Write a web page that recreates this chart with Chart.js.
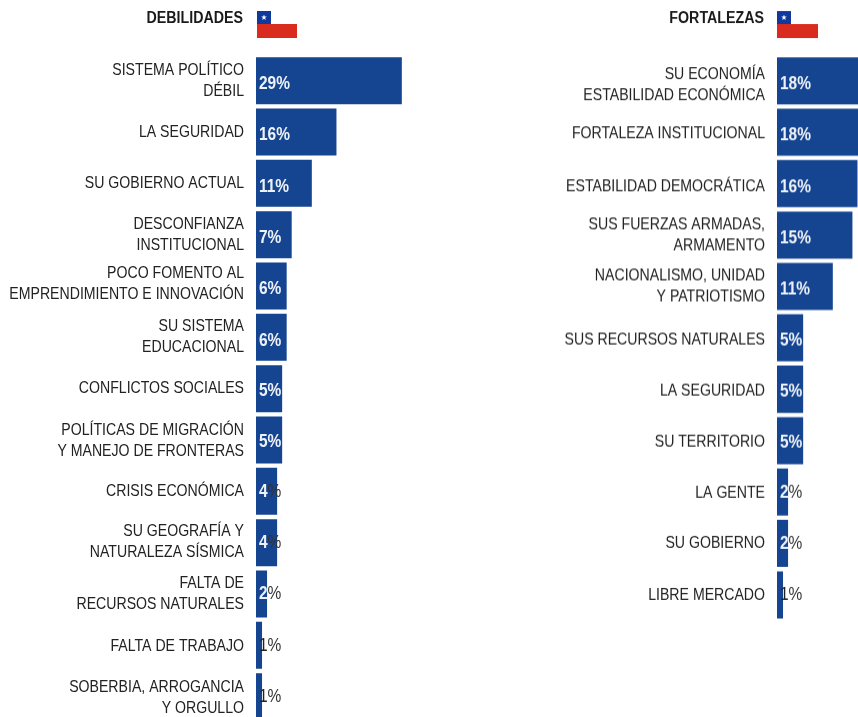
<!DOCTYPE html>
<html><head><meta charset="utf-8">
<script src="https://cdn.jsdelivr.net/npm/chart.js@4"></script>
<style>
html,body{margin:0;padding:0;background:#fff;overflow:hidden;width:858px;height:717px}
.box{position:absolute;top:0}
canvas{display:block}
</style></head><body>
<div class="box" style="left:0;width:432px;height:780px"><canvas id="left" width="432" height="756"></canvas></div>
<div class="box" style="left:432px;width:521px;height:680px"><canvas id="right" width="521" height="653"></canvas></div>
<script>
const weakLabels = [
  ["SISTEMA POLÍTICO","DÉBIL"],"LA SEGURIDAD","SU GOBIERNO ACTUAL",
  ["DESCONFIANZA","INSTITUCIONAL"],["POCO FOMENTO AL","EMPRENDIMIENTO E INNOVACIÓN"],
  ["SU SISTEMA","EDUCACIONAL"],"CONFLICTOS SOCIALES",
  ["POLÍTICAS DE MIGRACIÓN","Y MANEJO DE FRONTERAS"],"CRISIS ECONÓMICA",
  ["SU GEOGRAFÍA Y","NATURALEZA SÍSMICA"],["FALTA DE","RECURSOS NATURALES"],
  "FALTA DE TRABAJO",["SOBERBIA, ARROGANCIA","Y ORGULLO"]
];
const weakValues = [29, 16, 11.1, 7.1, 6.1, 6.1, 5.2, 5.2, 4.2, 4.2, 2.2, 1.2, 1.2];
const strongLabels = [
  ["SU ECONOMÍA","ESTABILIDAD ECONÓMICA"],"FORTALEZA INSTITUCIONAL","ESTABILIDAD DEMOCRÁTICA",
  ["SUS FUERZAS ARMADAS,","ARMAMENTO"],["NACIONALISMO, UNIDAD","Y PATRIOTISMO"],
  "SUS RECURSOS NATURALES","LA SEGURIDAD","SU TERRITORIO","LA GENTE","SU GOBIERNO","LIBRE MERCADO"
];
const strongValues = [18, 18, 16, 15, 11.1, 5.2, 5.2, 5.2, 2.2, 2.2, 1.2];

// layout-only tweaks: vertical nudge of each axis label, in pixels
const weakNudge = [0, 0, 0, 0, -2, -1, 0, 1, 0, -1, 0, 1, 1];
const strongNudge = [4.5, 1.5, 3, 0, 0, 2, 2, 1.5, 1, 0, 0];

const FONT = '"Liberation Sans",Arial,sans-serif';
const BAR = '#154591';
const SQUEEZE = 0.83;
const ROW = 51.33;

const decor = {
  id: 'decor',
  afterDatasetsDraw(chart, _a, opts) {
    const ctx = chart.ctx, area = chart.chartArea, meta = chart.getDatasetMeta(0);
    const put = (txt, x, y, font, color, align, sx) => {
      ctx.save();
      ctx.translate(x, y);
      ctx.scale(sx, 1);
      ctx.font = font;
      ctx.fillStyle = color;
      ctx.textAlign = align;
      ctx.textBaseline = 'middle';
      ctx.fillText(txt, 0, 0);
      ctx.restore();
    };
    meta.data.forEach((bar, i) => {
      const v = Math.round(chart.data.datasets[0].data[i]);
      const x = area.left + 3;
      if (v >= 5) {
        put(v + '%', x, bar.y + (v >= 6 ? 3.5 : 2.5), 'bold 18px ' + FONT, '#eef2f8', 'left', 0.86);
      } else {
        ctx.font = 'bold 18px ' + FONT;
        const dx = ctx.measureText(String(v)).width * 0.86;
        put(String(v), x, bar.y + 0.5, (v >= 2 ? 'bold ' : '') + '18px ' + FONT, v >= 2 ? '#eef2f8' : '#222', 'left', 0.86);
        put('%', x + dx, bar.y + 0.5, '18px ' + FONT, '#333', 'left', 0.86);
      }
    });
    put(opts.title, area.left - 13, 18.5, 'bold 16px ' + FONT, '#1a1a1a', 'right', 0.89);
    const fx = area.left + opts.flagInset, fy = 11;
    ctx.save();
    ctx.fillStyle = '#d92c1e';
    ctx.fillRect(fx, fy + 13, 41 - opts.flagInset, 14);
    ctx.fillStyle = '#0f399c';
    ctx.fillRect(fx, fy, 14, 13);
    ctx.fillStyle = '#fff';
    ctx.beginPath();
    for (let k = 0; k < 10; k++) {
      const r = k % 2 ? 1.2 : 3, a = -Math.PI / 2 + k * Math.PI / 5;
      ctx.lineTo(fx + 7 + r * Math.cos(a), fy + 6.5 + r * Math.sin(a));
    }
    ctx.closePath();
    ctx.fill();
    ctx.restore();
  }
};

function build(id, labels, values, axisWidth, title, nudge, flagInset) {
  const chart = new Chart(document.getElementById(id), {
    type: 'bar',
    plugins: [decor],
    data: { labels, datasets: [{ data: values, backgroundColor: BAR, categoryPercentage: 1, barPercentage: 0.916 }] },
    options: {
      indexAxis: 'y', responsive: false, animation: false, maintainAspectRatio: false,
      layout: { padding: { top: 55, bottom: 0, left: 0, right: 0 }, autoPadding: false },
      plugins: { legend: { display: false }, tooltip: { enabled: false }, decor: { title, flagInset } },
      scales: {
        x: { display: false, min: 0, max: 35 },
        y: {
          afterFit(s) {
            s.width = axisWidth;
            s._computeLabelArea = () => undefined;
            if (!s._squeezed) {
              s._squeezed = true;
              const orig = s.drawLabels;
              s.drawLabels = function (a) {
                const c = this.ctx, ax = this.right - 12;
                c.save();
                c.translate(ax, 0); c.scale(SQUEEZE, 1); c.translate(-ax, 0);
                orig.call(this, a);
                c.restore();
              };
              const items = s._computeLabelItems;
              s._computeLabelItems = function (a) {
                const out = items.call(this, a);
                out.forEach((it, i) => { it.options.translation[1] += nudge[i] || 0; });
                return out;
              };
            }
          },
          grid: { display: false, drawTicks: false }, border: { display: false },
          ticks: { autoSkip: false, padding: 12, color: '#222', font: { family: FONT, size: 17, lineHeight: 1.235 } }
        }
      }
    }
  });
  // make the rows come out at the reference's pitch
  const wanted = 55 + ROW * labels.length;
  for (let k = 0; k < 2; k++) {
    chart.resize(chart.width, chart.height + wanted - chart.chartArea.bottom);
  }
}
build('left', weakLabels, weakValues, 256, 'DEBILIDADES', weakNudge, 1);
build('right', strongLabels, strongValues, 345, 'FORTALEZAS', strongNudge, 0);
</script>
</body></html>
